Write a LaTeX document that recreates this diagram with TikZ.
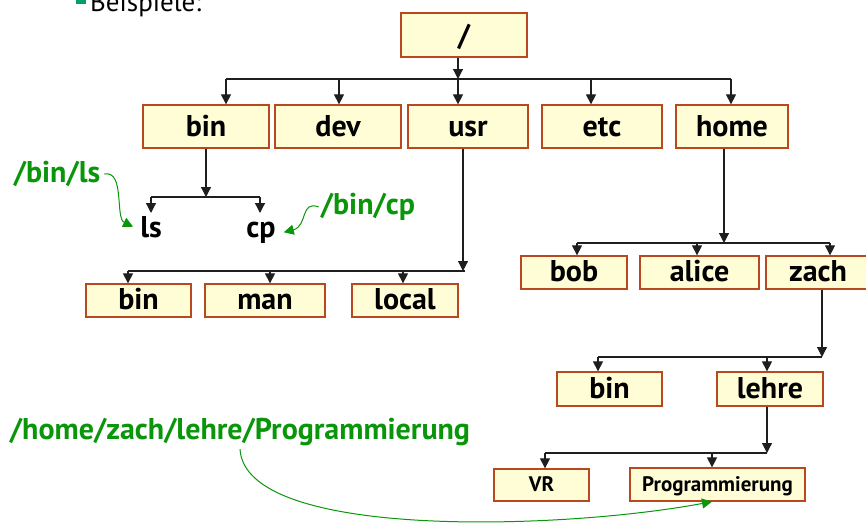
\documentclass[tikz,border=0pt]{standalone}
\usepackage{fontspec}
\setmainfont{PT Sans}
\usetikzlibrary{arrows.meta}
\definecolor{boxfill}{RGB}{255,253,214}
\definecolor{boxedge}{RGB}{184,72,30}
\definecolor{pathgreen}{RGB}{10,150,10}
\definecolor{bulletgreen}{RGB}{0,160,110}
\definecolor{linecol}{RGB}{30,30,30}
\tikzset{
  dirbox/.style={draw=boxedge, fill=boxfill, line width=1.3pt, inner sep=0pt,
    text height=25pt, text depth=5pt,
    font=\fontsize{30}{32}\selectfont\bfseries},
  lowbox/.style={dirbox, text height=23pt, text depth=5pt},
  smallbox/.style={dirbox, text height=17pt, text depth=4pt,
    font=\fontsize{21}{23}\selectfont\bfseries},
  plain/.style={inner sep=0pt, font=\fontsize{30}{32}\selectfont\bfseries},
  glabel/.style={inner sep=0pt, text=pathgreen, font=\fontsize{30}{32}\selectfont\bfseries},
  conn/.style={draw=linecol, line width=1.2pt},
  arr/.style={conn, -{Triangle[width=10pt,length=10pt]}},
  garr/.style={draw=pathgreen, line width=1pt, -{Triangle[width=10pt,length=10pt]}},
}
\begin{document}
\begin{tikzpicture}[x=1pt,y=-1pt]
\useasboundingbox (0,0) rectangle (866,522);
\clip (0,0) rectangle (866,522);
% header
\fill[bulletgreen] (76,-6) rectangle (86,4);
\node[anchor=base west, inner sep=0pt, font=\fontsize{27}{29}\selectfont] (hdr) at (90,11) {Beispiele:};
% nodes
\node[dirbox, minimum width=126pt, minimum height=44pt] (root) at (464,35) {/};
\node[dirbox, minimum width=126pt, minimum height=43pt] (bin1) at (206,126.5) {bin};
\node[dirbox, minimum width=126pt, minimum height=43pt] (dev) at (338,126.5) {dev};
\node[dirbox, minimum width=120pt, minimum height=43pt] (usr) at (468,126.5) {usr};
\node[dirbox, minimum width=120pt, minimum height=43pt] (etc) at (602,126.5) {etc};
\node[dirbox, minimum width=112pt, minimum height=43pt] (home) at (732,126.5) {home};
\node[plain, anchor=base] (ls) at (151,237) {ls};
\node[plain, anchor=base] (cp) at (261,237) {cp};
\node[lowbox, minimum width=105pt, minimum height=33pt] (bin2) at (138.5,300.5) {bin};
\node[lowbox, minimum width=120pt, minimum height=33pt] (man) at (265,300.5) {man};
\node[lowbox, minimum width=106pt, minimum height=33pt] (local) at (405,300.5) {local};
\node[lowbox, minimum width=106pt, minimum height=33pt] (bob) at (574,272.5) {bob};
\node[lowbox, minimum width=119pt, minimum height=33pt] (alice) at (699.5,272.5) {alice};
\node[lowbox, minimum width=104pt, minimum height=33pt] (zach) at (818,272.5) {zach};
\node[lowbox, minimum width=105pt, minimum height=34pt] (bin3) at (609.5,389) {bin};
\node[lowbox, minimum width=106pt, minimum height=34pt] (lehre) at (770,389) {lehre};
\node[smallbox, minimum width=95pt, minimum height=32pt] (vr) at (541.5,485) {VR};
\node[smallbox, minimum width=175pt, minimum height=33pt] (prog) at (717.5,484.5) {Programmierung};
% green labels
\node[glabel] (lls) at (57,174) {/bin/ls};
\node[glabel] (lcp) at (368,207) {/bin/cp};
\node[glabel] (lprog) at (240,432) {/home/zach/lehre/Programmierung};
% level 1 bar
\coordinate (r0) at (226,79);
\coordinate (rs) at (458,79);
\coordinate (r1) at (731,79);
\coordinate (rd) at (339,79);
\coordinate (re) at (591,79);
\draw[conn] (r0) -- (r1);
\draw[arr] (root.south -| rs) -- (rs);
\draw[arr] (r0) -- (bin1.north -| r0);
\draw[arr] (rd) -- (dev.north -| rd);
\draw[arr] (rs) -- (usr.north -| rs);
\draw[arr] (re) -- (etc.north -| re);
\draw[arr] (r1) -- (home.north -| r1);
% bin children
\coordinate (a0) at (151,197);
\coordinate (as) at (206,197);
\coordinate (a1) at (260,197);
\coordinate (a0e) at (151,213);
\coordinate (a1e) at (260,213);
\draw[conn] (a0) -- (a1);
\draw[arr] (bin1.south -| as) -- (as);
\draw[arr] (a0) -- (a0e);
\draw[arr] (a1) -- (a1e);
% usr children
\coordinate (u0) at (128,271);
\coordinate (us) at (463,271);
\coordinate (ue) at (465,271);
\coordinate (um) at (270,271);
\coordinate (ul) at (403,271);
\draw[conn] (u0) -- (ue);
\draw[arr] (usr.south -| us) -- (us);
\draw[arr] (u0) -- (bin2.north -| u0);
\draw[arr] (um) -- (man.north -| um);
\draw[arr] (ul) -- (local.north -| ul);
% home children
\coordinate (h0) at (577,243);
\coordinate (hs) at (724,243);
\coordinate (ha) at (697,243);
\coordinate (h1) at (830,243);
\draw[conn] (h0) -- (h1);
\draw[arr] (home.south -| hs) -- (hs);
\draw[arr] (h0) -- (bob.north -| h0);
\draw[arr] (ha) -- (alice.north -| ha);
\draw[arr] (h1) -- (zach.north -| h1);
% zach children
\coordinate (z0) at (598,357);
\coordinate (z1) at (822,357);
\coordinate (zl) at (767,357);
\draw[conn] (z0) -- (z1);
\draw[arr] (zach.south -| z1) -- (z1);
\draw[arr] (z0) -- (bin3.north -| z0);
\draw[arr] (zl) -- (lehre.north -| zl);
% lehre children
\coordinate (l0) at (545,453);
\coordinate (l1) at (767,453);
\coordinate (lp) at (712,453);
\draw[conn] (l0) -- (l1);
\draw[arr] (lehre.south -| l1) -- (l1);
\draw[arr] (l0) -- (vr.north -| l0);
\draw[arr] (lp) -- (prog.north -| lp);
% green arrows
\draw[garr] (lls.east) ++(4,0) .. controls (125,170) and (115,218) .. ([xshift=-7pt]ls.west);
\draw[garr] (lcp.west) ++(-2,0) .. controls (300,200) and (308,226) .. ([xshift=8pt]cp.east);
\draw[garr] (lprog.south) ++(0,3) .. controls (245,540) and (560,530) .. (prog.south -| lp);
\end{tikzpicture}
\end{document}
